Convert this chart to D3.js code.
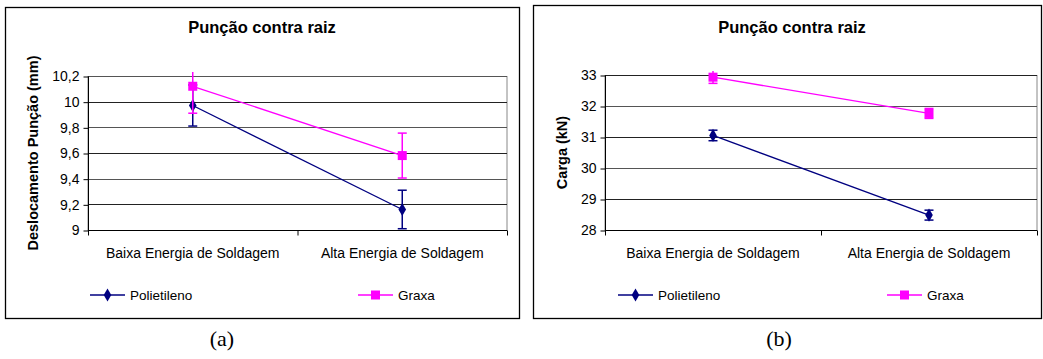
<!DOCTYPE html>
<html>
<head>
<meta charset="utf-8">
<script src="https://cdn.jsdelivr.net/npm/d3@7"></script>
<style>
  body { margin: 0; background: #fff; }
  text { font-family: "Liberation Sans", Arial, sans-serif; }
</style>
</head>
<body>
<div class="chart"></div>
<script>
// data
var categories = ["Baixa Energia de Soldagem", "Alta Energia de Soldagem"];
var seriesNames = ["Polietileno", "Graxa"];

// (a) deslocamento
var dispPolietileno = [9.97, 9.16];
var dispPolietilenoErr = [0.16, 0.15];
var dispGraxa = [10.12, 9.58];
var dispGraxaErr = [0.21, 0.175];
var dispTicks = [9, 9.2, 9.4, 9.6, 9.8, 10, 10.2];

// (b) carga
var cargaPolietileno = [31.05, 28.48];
var cargaPolietilenoErr = [0.17, 0.16];
var cargaGraxa = [32.93, 31.76];
var cargaGraxaErr = [0.2, 0.16];
var cargaTicks = [28, 29, 30, 31, 32, 33];

var colors = ["#000080", "#ff00ff"];

var svg = d3.select(".chart")
  .append("svg")
  .attr("width", 1043)
  .attr("height", 359);

function drawPanel(opt) {
  var g = svg.append("g");

  // frame
  g.append("rect")
    .attr("x", opt.frame[0] + 0.5).attr("y", opt.frame[1] + 0.5)
    .attr("width", opt.frame[2]).attr("height", opt.frame[3])
    .attr("fill", "none").attr("stroke", "#000").attr("stroke-width", 1.3);

  var x = d3.scaleBand().domain(categories).range([opt.left, opt.right]);
  var y = d3.scaleLinear().domain(d3.extent(opt.ticks)).range([opt.bottom, opt.top]);

  // plot area border (grey)
  g.append("rect")
    .attr("x", opt.left).attr("y", opt.top + 0.5)
    .attr("width", opt.right - opt.left).attr("height", opt.bottom - opt.top)
    .attr("fill", "none").attr("stroke", "#888");

  // gridlines
  g.selectAll(".grid").data(opt.ticks.slice(1)).enter()
    .append("line")
    .attr("x1", opt.left).attr("x2", opt.right)
    .attr("y1", function(d) { return Math.round(y(d)) + 0.5; })
    .attr("y2", function(d) { return Math.round(y(d)) + 0.5; })
    .attr("stroke", function(d, i) { return i % 2 ? "#555" : "#222"; });

  // y axis
  var yAxis = d3.axisLeft(y).tickValues(opt.ticks).tickSize(5).tickPadding(4)
    .tickFormat(function(d) { return String(d).replace(".", ","); });
  var ya = g.append("g")
    .attr("transform", "translate(" + (opt.left + 0.5) + ",0.5)")
    .call(yAxis);
  ya.select(".domain").attr("stroke", "#000").attr("d", "M0," + (opt.top) + "V" + (opt.bottom));
  ya.selectAll("text").attr("font-size", 14).attr("fill", "#000")
    .attr("font-family", "Liberation Sans, Arial, sans-serif");

  // x axis
  var xAxis = d3.axisBottom(x).tickSize(0).tickPadding(18);
  var xa = g.append("g")
    .attr("transform", "translate(0," + (opt.bottom + 0.5) + ")")
    .call(xAxis);
  xa.select(".domain").attr("stroke", "#000").attr("d", "M" + opt.left + ",0H" + opt.right);
  xa.selectAll("text").attr("font-size", 14).attr("fill", "#000")
    .attr("font-family", "Liberation Sans, Arial, sans-serif");
  // category separator ticks
  xa.selectAll(".sep").data([opt.left, opt.left + x.bandwidth(), opt.right]).enter()
    .append("line")
    .attr("x1", function(d) { return d + 0.5; }).attr("x2", function(d) { return d + 0.5; })
    .attr("y1", 0).attr("y2", 5).attr("stroke", "#000");

  // title
  g.append("text")
    .attr("x", opt.titleX).attr("y", 33)
    .attr("text-anchor", "middle")
    .attr("font-size", 16.5).attr("font-weight", "bold")
    .text("Punção contra raiz");

  // y label
  g.append("text")
    .attr("transform", "translate(" + opt.yLabelX + "," + ((opt.top + opt.bottom) / 2) + ") rotate(-90)")
    .attr("text-anchor", "middle")
    .attr("font-size", 14.5).attr("font-weight", "bold")
    .text(opt.yLabel);

  var cx = function(i) { return x(categories[i]) + x.bandwidth() / 2; };
  var yMax = d3.max(opt.ticks);

  opt.series.forEach(function(s, si) {
    var col = colors[si];
    var line = d3.line()
      .x(function(d, i) { return cx(i); })
      .y(function(d) { return y(d); });

    // error bars
    s.values.forEach(function(v, i) {
      var hi = v + s.err[i], lo = v - s.err[i];
      var clipped = hi > yMax;
      var yTop = clipped ? y(yMax) - 4 : y(hi);
      g.append("line")
        .attr("x1", cx(i)).attr("x2", cx(i))
        .attr("y1", yTop).attr("y2", y(lo))
        .attr("stroke", col).attr("stroke-width", 1.5);
      var caps = clipped ? [lo] : [lo, hi];
      caps.forEach(function(c) {
        g.append("line")
          .attr("x1", cx(i) - 4.5).attr("x2", cx(i) + 4.5)
          .attr("y1", y(c)).attr("y2", y(c))
          .attr("stroke", col).attr("stroke-width", 1.5);
      });
    });

    g.append("path")
      .datum(s.values)
      .attr("d", line)
      .attr("fill", "none").attr("stroke", col).attr("stroke-width", 1.3);

    s.values.forEach(function(v, i) {
      marker(g, si, cx(i), y(v));
    });
  });

  // legend
  seriesNames.forEach(function(name, si) {
    var lx = opt.legendX[si], ly = 295;
    g.append("line")
      .attr("x1", lx).attr("x2", lx + 35)
      .attr("y1", ly).attr("y2", ly)
      .attr("stroke", colors[si]).attr("stroke-width", 1.5);
    marker(g, si, lx + 17.5, ly);
    g.append("text")
      .attr("x", lx + 40).attr("y", ly + 5)
      .attr("font-size", 13.5)
      .text(name);
  });

  // caption
  svg.append("text")
    .attr("x", opt.captionX).attr("y", 346)
    .attr("text-anchor", "middle")
    .style("font-family", "'Liberation Serif', 'Times New Roman', serif")
    .attr("font-size", 22)
    .text(opt.caption);
}

function marker(g, si, px, py) {
  if (si === 0) {
    g.append("path")
      .attr("d", d3.symbol().type(d3.symbolDiamond).size(50)())
      .attr("transform", "translate(" + px + "," + py + ")")
      .attr("fill", colors[0]);
  } else {
    g.append("rect")
      .attr("x", px - 4.5).attr("y", py - 4.5)
      .attr("width", 9).attr("height", 9)
      .attr("fill", colors[1]);
  }
}

drawPanel({
  frame: [5, 7, 514, 311],
  left: 88, right: 507, top: 76, bottom: 230,
  ticks: dispTicks,
  titleX: 262, yLabelX: 38,
  yLabel: "Deslocamento Punção (mm)",
  series: [
    { values: dispPolietileno, err: dispPolietilenoErr },
    { values: dispGraxa, err: dispGraxaErr }
  ],
  legendX: [90, 358],
  captionX: 222, caption: "(a)"
});

drawPanel({
  frame: [533, 5, 508, 313],
  left: 605, right: 1037, top: 75, bottom: 230,
  ticks: cargaTicks,
  titleX: 792, yLabelX: 567,
  yLabel: "Carga (kN)",
  series: [
    { values: cargaPolietileno, err: cargaPolietilenoErr },
    { values: cargaGraxa, err: cargaGraxaErr }
  ],
  legendX: [618, 887],
  captionX: 779, caption: "(b)"
});
</script>
</body>
</html>
